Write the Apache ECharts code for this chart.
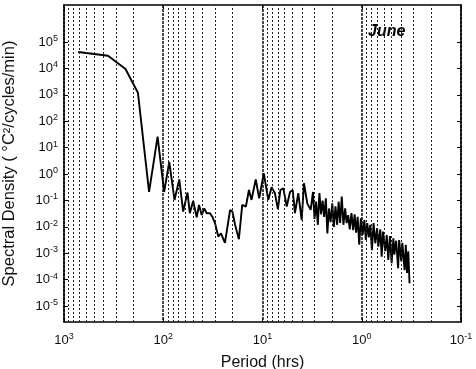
<!DOCTYPE html>
<html><head><meta charset="utf-8">
<script src="https://cdn.jsdelivr.net/npm/echarts@6/dist/echarts.min.js"></script>
<style>html,body{margin:0;padding:0;background:#fff}#c{width:476px;height:369px}</style>
</head><body><div id="c"></div>
<script>
// Period (hrs) and spectral density values
const periods = [720,360,240,180,139,114,98,87,77,69,63,57,54,50,46,43.6,41,38.6,36.5,33.8,31.8,30.1,27.9,26.2,23.9,21.2,20.1,18.9,17.3,16.0,14.7,13.7,12.9,11.7,10.8,9.7,8.75,8.1,7.5,7.0,6.6,6.17,5.70,5.28,4.96,4.71,4.36,4.03,3.82,3.54,3.27,
  3.10,2.99,2.88,2.77,2.67,2.57,2.48,2.39,2.30,2.22,2.14,2.06,1.98,1.91,1.84,1.77,1.71,1.65,1.59,1.53,1.47,1.42,1.37,1.32,1.27,1.22,1.18,1.14,1.10,1.06,1.02,0.98,0.94,0.91,0.88,0.85,0.82,0.79,0.76,0.73,0.70,0.68,0.65,0.63,0.61,0.58,0.56,0.54,0.52,0.50,0.48,0.47,0.45,0.43,0.42,0.40,0.39,0.37,0.36,0.35,0.34,0.33];
const density = [4.2e4,3.0e4,9.5e3,1.2e3,0.21,26,0.21,2.9,0.105,0.63,0.038,0.20,0.033,0.096,0.023,0.068,0.028,0.050,0.033,0.033,0.023,0.014,0.0043,0.0057,0.0025,0.044,0.038,0.012,0.0034,0.068,0.059,0.25,0.105,0.63,0.12,1.07,0.105,0.32,0.19,0.047,0.25,0.29,0.059,0.21,0.25,0.033,0.19,0.018,0.45,0.078,0.044,
  0.21,0.02,0.09,0.012,0.19,0.03,0.10,0.024,0.12,0.0057,0.05,0.015,0.078,0.010,0.06,0.012,0.09,0.014,0.14,0.012,0.05,0.014,0.028,0.008,0.033,0.0076,0.03,0.006,0.024,0.0021,0.021,0.005,0.018,0.0032,0.014,0.004,0.012,0.0013,0.014,0.0024,0.009,0.0018,0.008,0.00075,0.0066,0.0012,0.0049,0.00056,0.0045,0.00042,0.0037,0.0009,0.0030,0.00027,0.0032,0.0005,0.0025,0.00023,0.0021,0.00018,0.0012,0.000074];
const minorPeriods = [0.2,0.3,0.4,0.5,0.6,0.7,0.8,0.9,2,3,4,5,6,7,8,9,20,30,40,50,60,70,80,90,200,300,400,500,600,700,800,900];
const yTickValues = [1e-5,1e-4,1e-3,1e-2,1e-1,1,10,100,1e3,1e4,1e5];
const xRange = [0.1, 1000];
const yRange = [2.512e-6, 2.512e6];
const xName = 'Period (hrs)';
const yName = 'Spectral Density ( °C²/cycles/min)';
const panelLabel = 'June';

const font = 'Liberation Sans, Arial, Helvetica, sans-serif';
function powLabel(v){
  const e = Math.log10(v);
  const r = Math.round(e);
  if (Math.abs(e - r) > 1e-6) return '';
  return '{b|10}{s|' + r + '}';
}
const rich = {
  b:{fontSize:13, fontFamily:font, color:'#111'},
  s:{fontSize:9, fontFamily:font, color:'#111', verticalAlign:'bottom', padding:[0,0,7,0]}
};
const chart = echarts.init(document.getElementById('c'), null, {renderer:'canvas'});
chart.setOption({
  animation:false,
  backgroundColor:'#fff',
  grid:{left:64, right:15, top:5, bottom:47, containLabel:false, outerBoundsMode:'none'},
  xAxis:[{
    type:'log', logBase:10, min:xRange[0], max:xRange[1], inverse:true, interval:1,
    name:xName, nameLocation:'middle', nameGap:33,
    nameTextStyle:{fontSize:16, fontFamily:font, color:'#111'},
    axisLine:{lineStyle:{color:'#000', width:1.5}},
    axisTick:{inside:true, length:4, lineStyle:{color:'#000'}},
    axisLabel:{formatter:powLabel, rich:rich, margin:10},
    splitLine:{show:true, lineStyle:{color:'#111', width:1.5, type:[3,1]}}
  },{
    type:'log', logBase:10, min:xRange[0], max:xRange[1], inverse:true, interval:1, position:'top',
    axisLine:{lineStyle:{color:'#000', width:1.5}},
    axisTick:{inside:true, length:4, lineStyle:{color:'#000'}},
    axisLabel:{show:false}, splitLine:{show:false}
  }],
  yAxis:[{
    type:'log', logBase:10, min:yRange[0], max:yRange[1],
    name:yName, nameLocation:'middle', nameGap:46,
    nameTextStyle:{fontSize:16.5, fontFamily:font, color:'#111'},
    axisLine:{lineStyle:{color:'#000', width:1.5}},
    axisTick:{inside:true, length:4, lineStyle:{color:'#000'}, customValues:yTickValues},
    axisLabel:{formatter:powLabel, rich:rich, margin:6, customValues:yTickValues},
    splitLine:{show:false}
  },{
    type:'log', logBase:10, min:yRange[0], max:yRange[1], position:'right',
    axisLine:{lineStyle:{color:'#000', width:1.5}},
    axisTick:{inside:true, length:4, lineStyle:{color:'#000'}, customValues:yTickValues},
    axisLabel:{show:false}, splitLine:{show:false}
  }],
  series:[{
    type:'line', xAxisIndex:0, yAxisIndex:0,
    data: periods.map((p,i)=>[p, density[i]]),
    showSymbol:false, symbol:'none',
    lineStyle:{color:'#000', width:1.9},
    markLine:{
      silent:true, symbol:'none', label:{show:false},
      lineStyle:{color:'#222', width:1, type:[2,2]},
      data: minorPeriods.map(p=>({xAxis:p}))
    }
  }],
  graphic:[{
    type:'text', left:368, top:24,
    style:{text:panelLabel, font:'italic bold 16px '+font, fill:'#000'}
  }]
});
</script></body></html>
